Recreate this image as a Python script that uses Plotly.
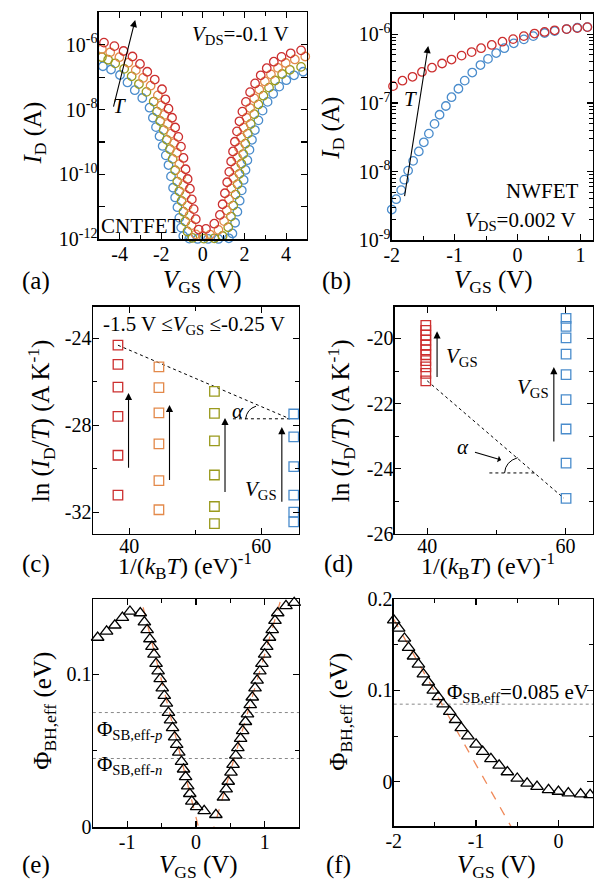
import plotly.graph_objects as go

W, H = 594, 896
FONT = "Liberation Serif"
RED = "#cc2f2f"
ORANGE = "#e3894a"
OLIVE = "#9a9a1c"
BLUE = "#4a8ccc"
FIT = "#f08a5a"

# ---------------- panel (a): CNTFET transfer curves (log10 I_D) ----------------
a_red_v = [-4.75, -4.25, -3.81, -3.38, -3.02, -2.67, -2.31, -1.96, -1.80, -1.65, -1.48, -1.33, -1.18, -1.05,
           -0.93, -0.83, -0.73, -0.62, -0.53, -0.44, -0.34, -0.20, 0.15, 0.55, 0.82, 0.95, 1.06, 1.17, 1.27,
           1.36, 1.45, 1.54, 1.64, 1.76, 1.90, 2.07, 2.27, 2.51, 2.78, 3.07, 3.41, 3.78, 4.22, 4.72]
a_red_logi = [-5.93, -6.04, -6.19, -6.36, -6.59, -6.83, -7.07, -7.37, -7.68, -7.97, -8.25, -8.55, -8.84, -9.14,
              -9.49, -9.84, -10.14, -10.44, -10.77, -11.07, -11.38, -11.70, -11.68, -11.52, -11.25, -10.92,
              -10.58, -10.24, -9.92, -9.60, -9.29, -8.99, -8.67, -8.36, -8.06, -7.76, -7.46, -7.19, -6.94,
              -6.72, -6.52, -6.37, -6.26, -6.17]
a_orange_v = [-4.85, -4.45, -4.01, -3.58, -3.22, -2.87, -2.51, -2.16, -2.00, -1.85, -1.68, -1.53, -1.38, -1.25,
              -1.13, -1.03, -0.93, -0.82, -0.73, -0.64, -0.54, -0.34, 0.00, 0.35, 0.75, 1.02, 1.15, 1.26, 1.37,
              1.47, 1.56, 1.65, 1.74, 1.84, 1.96, 2.10, 2.27, 2.47, 2.71, 2.98, 3.27, 3.61, 3.98, 4.42, 4.92]
a_orange_logi = [-6.13, -6.23, -6.38, -6.55, -6.78, -7.02, -7.26, -7.56, -7.87, -8.16, -8.44, -8.74, -9.03,
                 -9.33, -9.68, -10.03, -10.33, -10.63, -10.96, -11.26, -11.57, -11.85, -11.90, -11.86, -11.71,
                 -11.44, -11.11, -10.77, -10.43, -10.11, -9.79, -9.48, -9.18, -8.86, -8.55, -8.25, -7.95,
                 -7.65, -7.38, -7.13, -6.91, -6.71, -6.56, -6.45, -6.36]
a_olive_v = [-4.85, -4.55, -4.21, -3.78, -3.42, -3.07, -2.71, -2.36, -2.20, -2.05, -1.88, -1.73, -1.58, -1.45,
             -1.33, -1.23, -1.13, -1.02, -0.93, -0.84, -0.74, -0.50, 0.05, 0.55, 0.95, 1.22, 1.35, 1.46, 1.57,
             1.67, 1.76, 1.85, 1.94, 2.04, 2.16, 2.30, 2.47, 2.67, 2.91, 3.18, 3.47, 3.81, 4.18, 4.72]
a_olive_logi = [-6.38, -6.46, -6.57, -6.74, -6.97, -7.21, -7.45, -7.75, -8.06, -8.35, -8.63, -8.93, -9.22,
                -9.52, -9.87, -10.22, -10.52, -10.82, -11.15, -11.45, -11.76, -11.96, -11.98, -11.97, -11.90,
                -11.63, -11.30, -10.96, -10.62, -10.30, -9.98, -9.67, -9.37, -9.05, -8.74, -8.44, -8.14,
                -7.84, -7.57, -7.32, -7.10, -6.90, -6.77, -6.68]
a_blue_v = [-4.80, -4.41, -3.98, -3.62, -3.27, -2.91, -2.56, -2.40, -2.25, -2.08, -1.93, -1.78, -1.65, -1.53,
            -1.43, -1.33, -1.22, -1.13, -1.04, -0.94, -0.65, -0.25, 0.25, 0.75, 1.25, 1.42, 1.55, 1.66, 1.77,
            1.87, 1.96, 2.05, 2.14, 2.24, 2.36, 2.50, 2.67, 2.87, 3.11, 3.38, 3.67, 4.01, 4.38, 4.82]
a_blue_logi = [-6.66, -6.76, -6.93, -7.16, -7.40, -7.64, -7.94, -8.25, -8.54, -8.82, -9.12, -9.41, -9.71,
               -10.06, -10.41, -10.71, -11.01, -11.34, -11.64, -11.90, -11.98, -11.99, -11.99, -11.99, -11.97,
               -11.82, -11.49, -11.15, -10.81, -10.49, -10.17, -9.86, -9.56, -9.24, -8.93, -8.63, -8.33,
               -8.03, -7.76, -7.51, -7.29, -7.09, -6.94, -6.83]

# ---------------- panel (b): NWFET transfer curves (log10 I_D) ----------------
b_red_v = [-1.98, -1.83, -1.67, -1.52, -1.36, -1.20, -1.05, -0.89, -0.73, -0.58, -0.41, -0.24, -0.07, 0.10,
           0.27, 0.43, 0.59, 0.78, 0.95, 1.11]
b_red_logi = [-6.756, -6.677, -6.620, -6.549, -6.487, -6.426, -6.369, -6.312, -6.260, -6.203, -6.156, -6.109,
              -6.071, -6.028, -5.990, -5.967, -5.943, -5.925, -5.911, -5.896]
b_blue_v = [-2.00, -1.93, -1.85, -1.80, -1.74, -1.66, -1.57, -1.49, -1.41, -1.32, -1.24, -1.14, -1.05, -0.94,
            -0.84, -0.72, -0.59, -0.47, -0.34, -0.21, -0.06, 0.10, 0.25, 0.43, 0.59, 0.78, 0.95, 1.11]
b_blue_logi = [-8.553, -8.402, -8.270, -8.118, -7.986, -7.844, -7.707, -7.574, -7.447, -7.305, -7.173, -7.045,
               -6.917, -6.794, -6.676, -6.558, -6.449, -6.359, -6.274, -6.203, -6.132, -6.075, -6.028, -5.982,
               -5.953, -5.925, -5.905, -5.896]

# ---------------- panel (c): Arrhenius, CNTFET ----------------
c_invkt = {"red": 38.3, "orange": 44.5, "olive": 52.9, "blue": 64.9}
c_red = [-24.31, -25.19, -26.24, -27.59, -29.38, -31.22]
c_orange = [-25.31, -26.26, -27.43, -28.86, -30.55, -31.89]
c_olive = [-26.44, -27.45, -28.72, -30.29, -31.74, -32.53]
c_blue = [-27.48, -28.53, -29.90, -31.22, -32.00, -32.45]

# ---------------- panel (d): Arrhenius, NWFET ----------------
d_invkt = {"red": 39.8, "blue": 60.1}
d_red = [-19.60, -19.75, -19.90, -20.05, -20.20, -20.35, -20.50, -20.68, -20.87, -21.07, -21.30]
d_blue = [-19.38, -19.63, -19.98, -20.48, -21.11, -21.88, -22.78, -23.83, -24.91]

# ---------------- panel (e): barrier height, CNTFET ----------------
e_v = [-1.43, -1.30, -1.18, -1.07, -0.96, -0.81,
       -0.75, -0.71, -0.67, -0.64, -0.61, -0.58, -0.55, -0.52, -0.49, -0.46, -0.43, -0.40, -0.37, -0.34,
       -0.31, -0.28, -0.25, -0.21, -0.18, -0.15, -0.12, -0.09, -0.06, 0.01,
       0.12, 0.29,
       0.40, 0.44, 0.47, 0.51, 0.54, 0.58, 0.61, 0.65, 0.68, 0.72, 0.75, 0.79, 0.82, 0.86, 0.89, 0.93,
       0.96, 1.00, 1.03, 1.07, 1.11, 1.15, 1.19, 1.31, 1.43]
e_phi = [0.124, 0.128, 0.132, 0.137, 0.141, 0.140,
         0.134, 0.129, 0.123, 0.118, 0.113, 0.107, 0.102, 0.097, 0.091, 0.086, 0.081, 0.075, 0.070, 0.065,
         0.059, 0.054, 0.049, 0.043, 0.038, 0.033, 0.027, 0.022, 0.017, 0.0134,
         0.0108, 0.0083,
         0.0197, 0.025, 0.030, 0.036, 0.041, 0.047, 0.052, 0.058, 0.063, 0.069, 0.074, 0.080, 0.085, 0.091,
         0.096, 0.102, 0.107, 0.113, 0.118, 0.124, 0.129, 0.135, 0.140, 0.1446, 0.1467]
e_fit_p_v = [-0.832, 0.066]
e_fit_p_phi = [0.155, -0.005]
e_fit_n_v = [0.229, 1.276]
e_fit_n_phi = [-0.005, 0.155]
e_sb_p = 0.075
e_sb_n = 0.045

# ---------------- panel (f): barrier height, NWFET ----------------
f_v = [-2.00, -1.94, -1.87, -1.82, -1.76, -1.70, -1.64, -1.58, -1.52, -1.46, -1.40, -1.32, -1.25, -1.18,
       -1.10, -1.00, -0.92, -0.82, -0.72, -0.62, -0.50, -0.38, -0.26, -0.12, 0.00, 0.12, 0.27, 0.385]
f_phi = [0.177, 0.168, 0.157, 0.147, 0.1375, 0.1286, 0.118, 0.109, 0.100, 0.093, 0.085, 0.0768, 0.0679, 0.059,
         0.050, 0.041, 0.033, 0.025, 0.018, 0.0107, 0.0036, -0.0018, -0.0054, -0.0089, -0.0107, -0.0125,
         -0.0136, -0.0143]
f_fit_v = [-2.00, -0.57]
f_fit_phi = [0.178, -0.05]
f_sb = 0.085


def px(x):
    return x / W


def py(y):
    return 1 - y / H


fig = go.Figure()


def circles(x, logi, color, xa, ya):
    fig.add_trace(go.Scatter(x=x, y=[10 ** v for v in logi], mode="markers", xaxis=xa, yaxis=ya,
                             cliponaxis=False,
                             marker=dict(symbol="circle-open", size=8.5, color=color, line=dict(width=1.3)),
                             showlegend=False, hoverinfo="skip"))


for xs, ys, col in [(a_blue_v, a_blue_logi, BLUE), (a_olive_v, a_olive_logi, OLIVE),
                    (a_orange_v, a_orange_logi, ORANGE), (a_red_v, a_red_logi, RED)]:
    circles(xs, ys, col, "x", "y")
circles(b_blue_v, b_blue_logi, BLUE, "x2", "y2")
circles(b_red_v, b_red_logi, RED, "x2", "y2")


def squares(xv, ys, color, xa, ya):
    fig.add_trace(go.Scatter(x=[xv] * len(ys), y=ys, mode="markers", xaxis=xa, yaxis=ya, cliponaxis=False,
                             marker=dict(symbol="square-open", size=9.5, color=color, line=dict(width=1.3)),
                             showlegend=False, hoverinfo="skip"))


def line(x, y, xa, ya, color, dash, width=1.0):
    fig.add_trace(go.Scatter(x=x, y=y, mode="lines", xaxis=xa, yaxis=ya,
                             line=dict(color=color, dash=dash, width=width),
                             showlegend=False, hoverinfo="skip"))


# (c)
line([c_invkt["red"], 64.3], [c_red[0], -27.70], "x3", "y3", "black", "dot", 1.0)
line([55.7, 64.3], [-27.70, -27.70], "x3", "y3", "black", "dot", 1.0)
squares(c_invkt["red"], c_red, RED, "x3", "y3")
squares(c_invkt["orange"], c_orange, ORANGE, "x3", "y3")
squares(c_invkt["olive"], c_olive, OLIVE, "x3", "y3")
squares(c_invkt["blue"], c_blue, BLUE, "x3", "y3")

# (d)
line([d_invkt["red"] + 0.2, d_invkt["blue"] - 0.3], [d_red[-1], d_blue[-1]], "x4", "y4", "black", "dot", 1.0)
line([49.0, 55.9], [-24.13, -24.13], "x4", "y4", "black", "dot", 1.0)
squares(d_invkt["red"], d_red, RED, "x4", "y4")
squares(d_invkt["blue"], d_blue, BLUE, "x4", "y4")

# (e)
line([-1.5, 1.5], [e_sb_p, e_sb_p], "x5", "y5", "#888888", "dot", 1.0)
line([-1.5, 1.5], [e_sb_n, e_sb_n], "x5", "y5", "#888888", "dot", 1.0)
line(e_fit_p_v, e_fit_p_phi, "x5", "y5", FIT, "dash", 1.3)
line(e_fit_n_v, e_fit_n_phi, "x5", "y5", FIT, "dash", 1.3)
fig.add_trace(go.Scatter(x=e_v, y=e_phi, mode="markers", xaxis="x5", yaxis="y5", cliponaxis=False,
                         marker=dict(symbol="triangle-up-open", size=11, color="black", line=dict(width=1.3)),
                         showlegend=False, hoverinfo="skip"))

# (f)
line([-2.0, 0.42], [f_sb, f_sb], "x6", "y6", "#888888", "dot", 1.0)
line(f_fit_v, f_fit_phi, "x6", "y6", FIT, "dash", 1.3)
fig.add_trace(go.Scatter(x=f_v, y=f_phi, mode="markers", xaxis="x6", yaxis="y6", cliponaxis=False,
                         marker=dict(symbol="triangle-up-open", size=11, color="black", line=dict(width=1.3)),
                         showlegend=False, hoverinfo="skip"))

# ---------------- axes ----------------
TICKFONT = dict(family=FONT, size=20, color="black")


def axis(domain, rng, tickvals, ticktext, anchor, minor_vals=None, typ="linear", standoff=-4):
    d = dict(domain=domain, range=rng, type=typ, anchor=anchor, showline=True, linecolor="black",
             linewidth=1.3, mirror="allticks", ticks="inside", ticklen=6, tickwidth=1.2, tickcolor="black",
             showgrid=False, zeroline=False, tickmode="array", tickvals=tickvals, ticktext=ticktext,
             tickfont=TICKFONT, fixedrange=True, ticklabelstandoff=standoff)
    if minor_vals is not None:
        d["minor"] = dict(tickmode="array", tickvals=minor_vals, ticks="inside", ticklen=4, tickwidth=1.0,
                          tickcolor="black", showgrid=False)
    return d


def sup(e):
    return "10<sup>%d</sup>" % e


a_dec = list(range(-12, -4))
b_dec = [-9, -8, -7, -6]
b_minor = [m * 10.0 ** e for e in [-9, -8, -7, -6] for m in range(2, 10) if m * 10.0 ** e < 10 ** -5.7]

XS = -4
YS = -4
layout_axes = dict(
    xaxis=axis([px(92), px(303)], [-5, 5], [-4, -2, 0, 2, 4], ["-4", "-2", "0", "2", "4"], "y",
               minor_vals=[-5, -3, -1, 1, 3, 5], standoff=XS),
    yaxis=axis([py(234), py(1.5)], [-12, -5], [10.0 ** e for e in a_dec],
               [sup(e) if e % 2 == 0 else "" for e in a_dec], "x", typ="log", standoff=YS),
    xaxis2=axis([px(389), px(593)], [-2, 1.2], [-2, -1, 0, 1], ["-2", "-1", "0", "1"], "y2",
                minor_vals=[-1.5, -0.5, 0.5], standoff=XS),
    yaxis2=axis([py(235), py(2.7)], [-9, -5.7], [10.0 ** e for e in b_dec], [sup(e) for e in b_dec], "x2",
                typ="log", minor_vals=b_minor, standoff=YS),
    xaxis3=axis([px(86), px(295)], [34.5, 65.7], [40, 60], ["40", "60"], "y3", minor_vals=[50], standoff=-6),
    yaxis3=axis([py(536), py(303)], [-33.0, -22.53], [-32, -28, -24], ["-32", "-28", "-24"], "x3",
                minor_vals=[-30, -26], standoff=YS),
    xaxis4=axis([px(392), px(593)], [35.3, 64.0], [40, 60], ["40", "60"], "y4", minor_vals=[50], standoff=-6),
    yaxis4=axis([py(536), py(303)], [-26, -19.02], [-26, -24, -22, -20], ["-26", "-24", "-22", "-20"], "x4",
                minor_vals=[-25, -23, -21], standoff=YS),
    xaxis5=axis([px(86), px(295)], [-1.5, 1.5], [-1, 0, 1], ["-1", "0", "1"], "y5", minor_vals=[-0.5, 0.5],
                standoff=XS),
    yaxis5=axis([py(837), py(603)], [0, 0.149], [0, 0.1], ["0", "0.1"], "x5", minor_vals=[0.05], standoff=YS),
    xaxis6=axis([px(391), px(593)], [-2, 0.42], [-2, -1, 0], ["-2", "-1", "0"], "y6",
                minor_vals=[-1.5, -0.5], standoff=XS),
    yaxis6=axis([py(836), py(603)], [-0.049, 0.2], [0, 0.1, 0.2], ["0", "0.1", "0.2"], "x6",
                minor_vals=[0.05, 0.15], standoff=YS),
)

# ---------------- annotations ----------------
ann = []
TXT = dict(family=FONT, size=21, color="black")
TITLE = dict(family=FONT, size=25, color="black")
TITLE_C = dict(family=FONT, size=24, color="black")


def pnote(text, x, y, font=TXT, xanchor="center", angle=0):
    ann.append(dict(text=text, x=px(x), y=py(y), xref="paper", yref="paper", showarrow=False, font=font,
                    xanchor=xanchor, yanchor="middle", textangle=angle))


def dnote(text, x, y, xa, ya, font=TXT, xanchor="center"):
    ann.append(dict(text=text, x=x, y=y, xref=xa, yref=ya, showarrow=False, font=font, xanchor=xanchor,
                    yanchor="middle"))


def arrow(x0, y0, x1, y1, xa, ya, head=2, size=1.3):
    ann.append(dict(text="", x=x1, y=y1, ax=x0, ay=y0, xref=xa, yref=ya, axref=xa, ayref=ya, showarrow=True,
                    arrowhead=head, arrowsize=size, arrowwidth=1.1, arrowcolor="black", standoff=0,
                    startstandoff=0))


VGS = "<i>V</i><sub>GS</sub>"
# axis titles
for xc, yc in [(197, 277), (492, 277)]:
    pnote(VGS + " (V)", xc, yc, TITLE)
for xc, yc in [(193, 877), (495, 877)]:
    pnote(VGS + " (V)", xc, yc, TITLE)
for xc in [179, 487]:
    pnote("1/(<i>k</i><sub>B</sub><i>T</i>) (eV)<sup>-1</sup>", xc, 569, TITLE_C)
pnote("<i>I</i><sub>D</sub> (A)", 27, 125, TITLE, angle=-90)
pnote("<i>I</i><sub>D</sub> (A)", 328, 120, TITLE, angle=-90)
pnote("ln (<i>I</i><sub>D</sub>/<i>T</i>) (A K<sup>-1</sup>)", 33, 420, TITLE, angle=-90)
pnote("ln (<i>I</i><sub>D</sub>/<i>T</i>) (A K<sup>-1</sup>)", 337, 420, TITLE, angle=-90)
pnote("Φ<sub>BH,eff</sub> (eV)", 37, 718, TITLE, angle=-90)
pnote("Φ<sub>BH,eff</sub> (eV)", 337, 718, TITLE, angle=-90)
# panel labels
for lab, xc, yc in [("(a)", 28, 277), ("(b)", 333, 277), ("(c)", 28, 567), ("(d)", 335, 567),
                    ("(e)", 28, 875), ("(f)", 335, 875)]:
    pnote(lab, xc, yc, TITLE)

# (a)
pnote("<i>V</i><sub>DS</sub>=-0.1 V", 287, 25, xanchor="right")
pnote("CNTFET", 92, 220, xanchor="left")
arrow(-4.31, -7.95, -3.25, -5.23, "x", "y")
dnote("<i>T</i>", -3.98, -7.88, "x", "y")
# (b)
pnote("NWFET", 580, 185, xanchor="right")
pnote("<i>V</i><sub>DS</sub>=0.002 V", 578, 215, xanchor="right")
arrow(-1.80, -8.38, -1.42, -6.17, "x2", "y2")
dnote("<i>T</i>", -1.70, -6.94, "x2", "y2")
# (c)
pnote("-1.5 V ≤" + VGS + " ≤-0.25 V", 189, 322)
for xv, y0, y1 in [(39.9, -30.02, -26.51), (46.1, -30.59, -27.06), (54.5, -31.14, -27.66), (63.1, -31.59, -28.08)]:
    arrow(xv, y0, xv, y1, "x3", "y3")
dnote(VGS, 60.0, -31.0, "x3", "y3")
dnote("<i>α</i>", 56.4, -27.33, "x3", "y3")
# (d)
arrow(41.43, -21.23, 41.43, -19.78, "x4", "y4")
arrow(58.33, -23.21, 58.33, -20.88, "x4", "y4")
dnote(VGS, 42.4, -20.58, "x4", "y4", xanchor="left")
dnote(VGS, 55.3, -21.53, "x4", "y4")
dnote("<i>α</i>", 45.2, -23.33, "x4", "y4")
arrow(46.7, -23.48, 50.7, -23.73, "x4", "y4", head=1, size=1.0)
# (e)
pnote("Φ<sub>SB,eff-<i>p</i></sub>", 88, 737, xanchor="left")
pnote("Φ<sub>SB,eff-<i>n</i></sub>", 88, 773, xanchor="left")
# (f)
pnote("Φ<sub>SB,eff</sub>=0.085 eV", 443, 699, xanchor="left")

shapes = [
    dict(type="path", xref="x3", yref="y3", path="M 57.6,-27.72 Q 57.8,-27.25 59.2,-27.12",
         line=dict(color="black", width=1.0)),
    dict(type="path", xref="x4", yref="y4", path="M 51.2,-24.13 Q 51.3,-23.78 53.1,-23.66",
         line=dict(color="black", width=1.0)),
]

fig.update_layout(width=W, height=H, margin=dict(l=0, r=0, t=0, b=0), paper_bgcolor="white",
                  plot_bgcolor="white", font=dict(family=FONT, color="black"), annotations=ann, shapes=shapes,
                  **layout_axes)

fig.write_html("out.html", config={"displayModeBar": False, "staticPlot": True},
               post_script="document.body.style.margin='0px';document.body.style.overflow='hidden';")
